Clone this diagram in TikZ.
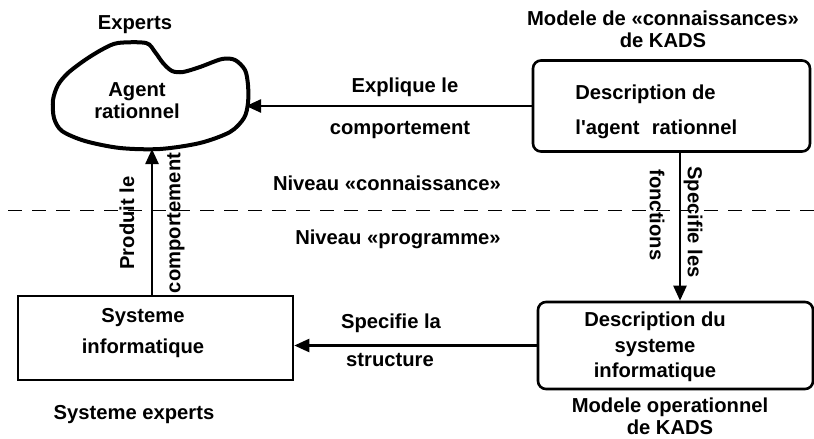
\documentclass[tikz,border=0pt]{standalone}
\usepackage{fontspec}
\setmainfont{Liberation Sans}
\usetikzlibrary{arrows.meta}

\tikzset{
	lbl/.style={font=\bfseries\fontsize{10.1}{11}\selectfont, inner sep=0pt, align=center},
	box/.style={draw, line width=1.3pt, inner sep=0pt},
	rbox/.style={box, rounded corners=4pt},
	arr/.style={line width=1.2pt, -{Triangle[length=7.5pt,width=6.5pt]}},
}

\begin{document}
\begin{tikzpicture}[x=0.5pt,y=-0.5pt]
	\useasboundingbox (0,0) rectangle (814,439);
	
	% border between the two levels
	\draw[dash pattern=on 7pt off 5pt, line width=0.5pt] (8,210) -- (814,210);
	\node[lbl] (nivC) at (387,183) {Niveau «connaissance»};
	\node[lbl] (nivP) at (398,239) {Niveau «programme»};
	
	% experts blob
	\draw[line width=2pt] plot[smooth cycle, tension=0.5] coordinates {
		(118,43) (146,43) (155,52) (163,63) (172,71) (183,72) (200,67) (222,59)
		(235,60) (245,70) (248,85) (248,103) (244,118) (230,132) (200,143)
		(160,149) (120,148) (85,141) (62,131) (54,118) (53,100) (58,85)
		(68,73) (85,60) (103,49)};
	\coordinate (blobE) at (246,106);
	\coordinate (blobS) at (152,149);
	\node[lbl] (experts) at (135,25) {Experts};
	\node[lbl] (agent) at (137,101) {Agent\\rationnel};
	
	% knowledge model box
	\node[rbox, minimum width=138.5pt, minimum height=45.5pt] (kbox) at (671.5,106) {};
	\node[lbl, anchor=west, align=left] (ktext) at (575,112) {Description de\\[6.5pt]l\textquotesingle agent\hspace{0.6em}rationnel};
	\node[lbl] (ktitle) at (663,29) {Modele de «connaissances»\\de KADS};
	
	% system box
	\node[box, minimum width=137.5pt, minimum height=42pt] (sysbox) at (155.5,338) {};
	\node[lbl] (systext) at (143,333) {Systeme\\[4.5pt]informatique};
	\node[lbl] (sysexp) at (134,415) {Systeme experts};
	
	% operational model box
	\node[rbox, minimum width=137.5pt, minimum height=43.5pt] (opbox) at (675.5,345.5) {};
	\node[lbl] (optext) at (655,347) {Description du\\[1.75pt]systeme\\[1.75pt]informatique};
	\node[lbl] (opmodel) at (670,416) {Modele operationnel\\de KADS};
	
	% explique le comportement
	\draw[arr] (kbox.west) -- (blobE);
	\node[lbl] (expl) at (405,87) {Explique le};
	\node[lbl] (comp1) at (400,130) {comportement};
	
	% specifie les fonctions
	\coordinate (specx) at (680,0);
	\draw[arr] (kbox.south -| specx) -- (opbox.north -| specx);
	\node[lbl, rotate=-90] (fonc) at (657,215) {fonctions};
	\node[lbl, rotate=-90] (specles) at (693,222) {Specifie les};
	
	% produit le comportement
	\draw[arr] (sysbox.north -| blobS) -- (blobS);
	\node[lbl, rotate=90] (prod) at (127,223) {Produit le};
	\node[lbl, rotate=90] (comp2) at (176,223) {comportement};
	
	% specifie la structure
	\draw[arr] (opbox.west) -- (opbox.west -| sysbox.east);
	\node[lbl] (specla) at (391,323) {Specifie la};
	\node[lbl] (struct) at (390,360) {structure};
\end{tikzpicture}
\end{document}
